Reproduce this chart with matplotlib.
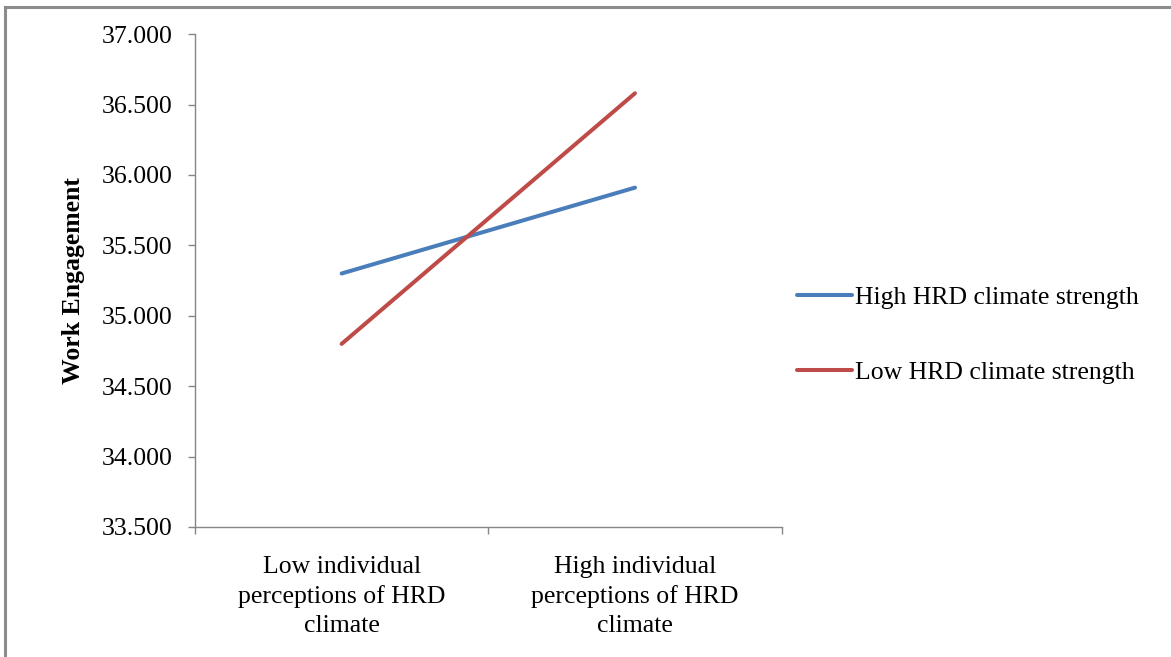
import numpy as np
import matplotlib.pyplot as plt
from matplotlib.lines import Line2D

# data
categories = ['Low individual\nperceptions of HRD\nclimate',
              'High individual\nperceptions of HRD\nclimate']
high_strength = [35.30, 35.91]
low_strength = [34.80, 36.58]
series_names = ['High HRD climate strength', 'Low HRD climate strength']
yticks = [33.5, 34.0, 34.5, 35.0, 35.5, 36.0, 36.5, 37.0]

plt.rcParams['font.family'] = ['Liberation Serif', 'DejaVu Serif']
fs = 18.5

fig = plt.figure(figsize=(11.71, 6.57), dpi=100)
ax = fig.add_axes([0.1665, 0.198, 0.501, 0.750])

x = np.array([0.5, 1.5])
ax.plot(x, high_strength, color='#4A7EBB', lw=2.9, solid_capstyle='round', label=series_names[0])
ax.plot(x, low_strength, color='#BE4B48', lw=2.9, solid_capstyle='round', label=series_names[1])

ax.set_xlim(0, 2)
ax.set_ylim(33.5, 37.0)
ax.set_yticks(yticks)
ax.set_yticklabels(['%.3f' % v for v in yticks])

# category boundaries as major ticks, labels on minor ticks
ax.set_xticks([0, 1, 2])
ax.set_xticklabels([])
ax.set_xticks(x, minor=True)
ax.set_xticklabels(categories, minor=True, fontsize=fs, linespacing=1.4)
ax.tick_params(axis='x', which='minor', length=0, pad=21)
ax.tick_params(axis='x', which='major', direction='out', length=5, color='#868686', width=1)
ax.tick_params(axis='y', direction='out', length=5, color='#868686', width=1,
               labelsize=fs, pad=11)

for s in ['top', 'right']:
    ax.spines[s].set_visible(False)
for s in ['left', 'bottom']:
    ax.spines[s].set_color('#868686')
    ax.spines[s].set_linewidth(1)

ax.set_ylabel('Work Engagement', fontsize=fs, fontweight='bold', labelpad=12)

ax.legend(loc='center left', bbox_to_anchor=(0.6806, 0.49), bbox_transform=fig.transFigure,
          frameon=False, fontsize=fs, handlelength=2.15, handletextpad=0.1,
          labelspacing=2.0, borderpad=0, borderaxespad=0)

# outer frame: only top and left edges show in the original crop
fig.add_artist(Line2D([5 / 1171, 1.0], [1 - 7 / 657, 1 - 7 / 657], transform=fig.transFigure,
                      color='#8c8c8c', lw=2.2))
fig.add_artist(Line2D([5 / 1171, 5 / 1171], [0.0, 1 - 7 / 657], transform=fig.transFigure,
                      color='#8c8c8c', lw=2.2))

fig.savefig('out.png', dpi=100)
